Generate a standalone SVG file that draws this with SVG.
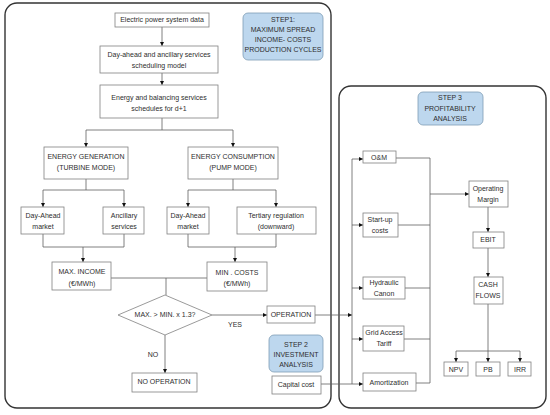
<svg xmlns="http://www.w3.org/2000/svg" width="550" height="415" viewBox="0 0 550 415">
<style>
text{font-family:"Liberation Sans",Arial,sans-serif;font-size:7px;fill:#2e2e2e;text-anchor:middle;dominant-baseline:middle}
.box{fill:#fff;stroke:#808080;stroke-width:0.8}
.step{fill:#bdd7ee;stroke:#7f9db5;stroke-width:0.8}
.cont{fill:none;stroke:#333;stroke-width:1.4}
.ln{fill:none;stroke:#5f5f5f;stroke-width:0.8}
.ar{fill:none;stroke:#5f5f5f;stroke-width:0.8;marker-end:url(#ah)}
</style>
<defs>
<marker id="ah" viewBox="0 0 6 6" refX="6" refY="3" markerWidth="4" markerHeight="4" orient="auto" markerUnits="userSpaceOnUse">
<path d="M0,0 L6,3 L0,6 z" fill="#111"/>
</marker>
</defs>
<rect width="550" height="415" fill="#fff"/>
<g id="containers">
<rect class="cont" x="5" y="3" width="326" height="405" rx="12"/>
<rect class="cont" x="339" y="86" width="207" height="322" rx="12"/>
</g>
<g id="connectors">
<path class="ar" d="M162,27 V46"/>
<path class="ar" d="M162,73 V85"/>
<path class="ln" d="M162,118 V130 M86,130 H233"/>
<path class="ar" d="M86,130 V147"/>
<path class="ar" d="M233,130 V147"/>
<path class="ln" d="M86,179 V190 M43,190 H124"/>
<path class="ar" d="M43,190 V207"/>
<path class="ar" d="M124,190 V207"/>
<path class="ln" d="M233,179 V190 M188,190 H276"/>
<path class="ar" d="M188,190 V207"/>
<path class="ar" d="M276,190 V207"/>
<path class="ln" d="M43,234 V247 H124 V234"/>
<path class="ar" d="M83,247 V262"/>
<path class="ln" d="M188,234 V247 H276 V234"/>
<path class="ar" d="M235,247 V262"/>
<path class="ln" d="M111,278 H207 M166,278 V295"/>
<path class="ar" d="M212,315 H267"/>
<path class="ar" d="M165,335 V373"/>
<path class="ar" d="M315,315 H352"/>
<path class="ar" d="M321,384 H363"/>
<path class="ln" d="M352,159 V384"/>
<path class="ar" d="M352,159 H363"/>
<path class="ar" d="M352,225 H363"/>
<path class="ar" d="M352,288 H363"/>
<path class="ar" d="M352,339 H363"/>
<path class="ln" d="M396,158 H430 V383 H416 M398,225 H430 M405,288 H430 M404,339 H430"/>
<path class="ar" d="M430,194 H469"/>
<path class="ar" d="M488,207 V232"/>
<path class="ar" d="M488,248 V277"/>
<path class="ln" d="M488,304 V351 M456,351 H520"/>
<path class="ar" d="M488,351 V362"/>
<path class="ar" d="M456,351 V362"/>
<path class="ar" d="M520,351 V362"/>
<text x="235" y="325">YES</text>
<text x="153" y="355">NO</text>
</g>
<g id="step1"><rect class="step" x="243" y="13" width="80" height="47" rx="5"/><text x="283" y="20">STEP1:</text><text x="283" y="30">MAXIMUM SPREAD</text><text x="283" y="40">INCOME- COSTS</text><text x="283" y="50">PRODUCTION CYCLES</text></g>
<g id="step2"><rect class="step" x="269" y="335" width="54" height="37" rx="5"/><text x="296" y="345">STEP 2</text><text x="296" y="355">INVESTMENT</text><text x="296" y="365">ANALYSIS</text></g>
<g id="step3"><rect class="step" x="418" y="92" width="65" height="33" rx="5"/><text x="450" y="98">STEP 3</text><text x="450" y="109">PROFITABILITY</text><text x="450" y="119">ANALYSIS</text></g>
<g id="n-data"><rect class="box" x="115" y="13" width="94" height="14"/><text x="162" y="20">Electric power system data</text></g>
<g id="n-model"><rect class="box" x="100" y="46" width="118" height="27"/><text x="159" y="55">Day-ahead and ancillary services</text><text x="159" y="66">scheduling model</text></g>
<g id="n-sched"><rect class="box" x="100" y="85" width="118" height="33"/><text x="159" y="98">Energy and balancing services</text><text x="159" y="109">schedules for d+1</text></g>
<g id="n-gen"><rect class="box" x="44" y="147" width="84" height="32"/><text x="86" y="157">ENERGY GENERATION</text><text x="86" y="168">(TURBINE MODE)</text></g>
<g id="n-cons"><rect class="box" x="188" y="147" width="90" height="32"/><text x="233" y="157">ENERGY CONSUMPTION</text><text x="233" y="168">(PUMP MODE)</text></g>
<g id="n-da1"><rect class="box" x="21" y="207" width="43" height="27"/><text x="43" y="216">Day-Ahead</text><text x="43" y="227">market</text></g>
<g id="n-anc"><rect class="box" x="103" y="207" width="41" height="27"/><text x="124" y="216">Ancillary</text><text x="124" y="227">services</text></g>
<g id="n-da2"><rect class="box" x="167" y="207" width="42" height="27"/><text x="188" y="216">Day-Ahead</text><text x="188" y="227">market</text></g>
<g id="n-tert"><rect class="box" x="237" y="207" width="79" height="27"/><text x="276" y="216">Tertiary regulation</text><text x="276" y="227">(downward)</text></g>
<g id="n-maxinc"><rect class="box" x="52" y="262" width="59" height="28"/><text x="82" y="272">MAX. INCOME</text><text x="82" y="284">(€/MWh)</text></g>
<g id="n-mincost"><rect class="box" x="207" y="262" width="60" height="29"/><text x="237" y="273">MIN . COSTS</text><text x="237" y="284">(€/MWh)</text></g>
<g id="n-dec"><polygon class="box" points="165,295 212,315 165,335 118,315"/><text x="165" y="315">MAX. &gt; MIN. x 1.3?</text></g>
<g id="n-op"><rect class="box" x="267" y="306" width="48" height="17"/><text x="291" y="315">OPERATION</text></g>
<g id="n-noop"><rect class="box" x="132" y="373" width="65" height="19"/><text x="164" y="382">NO OPERATION</text></g>
<g id="n-cap"><rect class="box" x="272" y="376" width="49" height="18"/><text x="296" y="385">Capital cost</text></g>
<g id="n-om"><rect class="box" x="363" y="151" width="33" height="12"/><text x="379" y="158">O&amp;M</text></g>
<g id="n-start"><rect class="box" x="363" y="213" width="35" height="24"/><text x="380" y="220">Start-up</text><text x="380" y="231">costs</text></g>
<g id="n-hyd"><rect class="box" x="363" y="277" width="42" height="22"/><text x="384" y="283">Hydraulic</text><text x="384" y="294">Canon</text></g>
<g id="n-grid"><rect class="box" x="363" y="326" width="41" height="25"/><text x="384" y="333">Grid Access</text><text x="384" y="344">Tariff</text></g>
<g id="n-amort"><rect class="box" x="363" y="373" width="53" height="18"/><text x="389" y="383">Amortization</text></g>
<g id="n-opm"><rect class="box" x="469" y="181" width="39" height="26"/><text x="488" y="189">Operating</text><text x="488" y="200">Margin</text></g>
<g id="n-ebit"><rect class="box" x="473" y="232" width="31" height="16"/><text x="488" y="240">EBIT</text></g>
<g id="n-cf"><rect class="box" x="474" y="277" width="29" height="27"/><text x="488" y="285">CASH</text><text x="488" y="296">FLOWS</text></g>
<g id="n-npv"><rect class="box" x="444" y="362" width="24" height="14"/><text x="456" y="370">NPV</text></g>
<g id="n-pb"><rect class="box" x="476" y="362" width="24" height="14"/><text x="488" y="370">PB</text></g>
<g id="n-irr"><rect class="box" x="508" y="362" width="23" height="14"/><text x="520" y="370">IRR</text></g>
</svg>
